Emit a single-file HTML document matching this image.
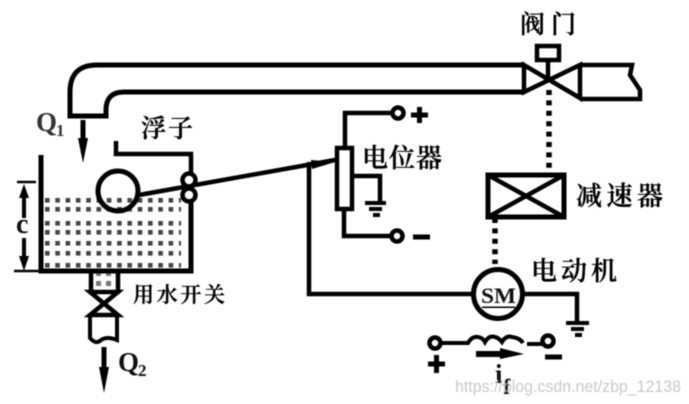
<!DOCTYPE html>
<html><head><meta charset="utf-8">
<style>
html,body{margin:0;padding:0;background:#fff}
svg{display:block;filter:blur(0.4px)}
.cn{font-family:"Liberation Sans","Noto Serif CJK SC",serif;fill:#000;font-weight:600;stroke:#000;stroke-width:.35}
.lat{font-family:"Liberation Serif",serif;font-weight:bold;fill:#111}
</style></head>
<body>
<svg width="689" height="404" viewBox="0 0 689 404" xmlns="http://www.w3.org/2000/svg">
<rect width="689" height="404" fill="#fff"/>
<defs>
<pattern id="d" x="45" y="0" width="10.3" height="404" patternUnits="userSpaceOnUse"><rect x="0" y="0" width="4.6" height="404" fill="#444"/></pattern>
</defs>
<!-- water dots -->
<g fill="url(#d)">
<rect x="45" y="198" width="136" height="4.6"/>
<rect x="45" y="207" width="136" height="4.6"/>
<rect x="45" y="221" width="136" height="4.6"/>
<rect x="45" y="230" width="136" height="4.6"/>
<rect x="45" y="241" width="136" height="4.6"/>
<rect x="45" y="251" width="136" height="4.6"/>
<rect x="45" y="263" width="136" height="4.6"/>
</g>
<g fill="#777">
<rect x="96" y="272" width="5" height="4"/><rect x="106" y="272" width="5" height="4"/>
<rect x="96" y="281" width="5" height="5"/><rect x="106" y="281" width="5" height="5"/>
</g>
<g fill="none" stroke="#000" stroke-width="4.5">
<!-- pipe -->
<path d="M525 65H97Q70 65 70 92V116H106V110Q106 92 124 92H525" stroke-width="5"/>
<!-- tank -->
<path d="M41 155V271H191V200" stroke-width="5"/>
<path d="M91 271V290M118 271V290"/>
<path d="M17 182H36M14 271H41" stroke-width="2.5"/>
<path d="M24 190V218M24 238V265" stroke-width="4"/>
<!-- outlet valve -->
<path d="M90 292H118L90 315H118Z" stroke-width="4.5"/>
<path d="M90 315V338Q96 345 101 340Q107 336 117 340V315" stroke-width="4"/>
<!-- float -->
<circle cx="118" cy="191" r="20" stroke-width="5"/>
<path d="M116 141V154H191V173" stroke-width="4.5"/>
<path d="M139 195L335 160" stroke-width="4.5"/>
<circle cx="189" cy="180" r="6.5" fill="#fff" stroke-width="4.5"/>
<circle cx="189" cy="195" r="6.5" fill="#fff" stroke-width="4.5"/>
<!-- pot -->
<rect x="337" y="148" width="15" height="61" fill="#fff" stroke-width="4.5"/>
<path d="M345 147V113H394M344 210V236H392"/>
<path d="M353 176H380V203"/>
<circle cx="398" cy="113" r="5.5" stroke-width="4.5"/>
<circle cx="397" cy="236" r="5.5" stroke-width="4.5"/>
<path d="M309 162V294H474" stroke-width="4.5"/>
<!-- valve -->
<rect x="537" y="46" width="22" height="14" stroke-width="4.5"/>
<path d="M548 60V80" stroke-width="4.5"/>
<path d="M524 65V92L580 65V98Z" stroke-width="4.5"/>
<path d="M580 65H632L630 75L640 90V99H580" stroke-width="4.5"/>
<!-- gearbox -->
<rect x="488" y="175" width="76" height="42" stroke-width="5"/>
<path d="M488 175L564 217M564 175L488 217" stroke-width="4.5"/>
<path d="M549 90V172" stroke-width="5.5" stroke-dasharray="5 5.4"/>
<path d="M495 218V264" stroke-width="5.5" stroke-dasharray="5 5.4"/>
<!-- motor -->
<circle cx="498" cy="294" r="24.5" stroke-width="5" fill="#fff"/>
<path d="M523 294H577V322" stroke-width="4.5"/>
<!-- coil -->
<circle cx="435" cy="343" r="5.5" stroke-width="4.5"/>
<circle cx="548" cy="341" r="5.5" stroke-width="4.5"/>
<path d="M441 343H468Q472 336 478 337Q483 338 485 342Q489 335 495 337Q499 338 502 342Q506 335 512 337Q520 338 523 343" stroke-width="4"/>
<path d="M527 344H543" stroke-width="4"/>
</g>
<g fill="#000">
<!-- arrows -->
<rect x="80.5" y="120" width="5" height="24"/><path d="M78 138H88L83 163Z"/>
<rect x="101.5" y="347" width="5" height="26"/><path d="M99 367H109L104 393Z"/>
<path d="M24 184L19 198H29Z"/><path d="M24 271L19 256H29Z"/>
<path d="M476 351H500V348L524 354L500 359V357H476Z"/>
<path d="M335 162L311 160L312 169Z"/>
<!-- grounds -->
<rect x="365" y="201" width="21" height="4"/><rect x="369" y="207" width="13" height="4"/><rect x="373" y="213" width="7" height="4"/>
<rect x="566" y="321" width="23" height="4"/><rect x="571" y="327" width="13" height="4"/><rect x="575" y="333" width="7" height="4"/>
<!-- signs -->
<rect x="411" y="112.5" width="17" height="5"/><rect x="417" y="107" width="5" height="16"/>
<rect x="413" y="234.5" width="17" height="5"/>
<rect x="428" y="361.5" width="17" height="5"/><rect x="434" y="355" width="5" height="18"/>
<rect x="545" y="354.5" width="17" height="5"/>
<rect x="482" y="306.5" width="33" height="1.5"/>
</g>
<!-- labels -->
<g class="cn">
<text x="520" y="33" font-size="25" textLength="56" lengthAdjust="spacing">阀门</text>
<text x="141" y="137" font-size="25" textLength="52" lengthAdjust="spacing">浮子</text>
<text x="362" y="167" font-size="26" textLength="80" lengthAdjust="spacing">电位器</text>
<text x="576" y="205" font-size="26" textLength="87" lengthAdjust="spacing">减速器</text>
<text x="531" y="280" font-size="26" textLength="86" lengthAdjust="spacing">电动机</text>
<text x="133" y="302" font-size="21" textLength="92" lengthAdjust="spacing">用水开关</text>
</g>
<g class="lat">
<text x="36" y="131" font-size="27" fill="#333">Q</text><text x="56" y="136" font-size="17" fill="#333">1</text>
<text x="118" y="371" font-size="27">Q</text><text x="138" y="376" font-size="17">2</text>
<text x="16" y="233" font-size="28">c</text>
<text x="481" y="303" font-size="22" textLength="35" lengthAdjust="spacingAndGlyphs">SM</text>
<text x="495" y="383" font-size="27">i</text><text x="503" y="394" font-size="22">f</text>
</g>
<text x="455" y="392" font-family="Liberation Sans,sans-serif" font-size="16.5" fill="#c9c9c9" textLength="226" lengthAdjust="spacingAndGlyphs">https://blog.csdn.net/zbp_12138</text>
</svg>
</body></html>
